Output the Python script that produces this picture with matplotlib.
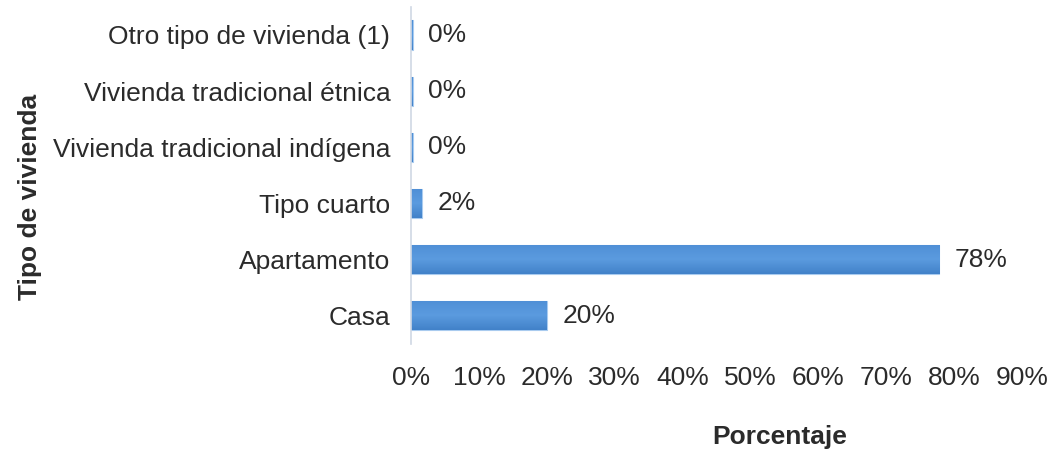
import numpy as np
import matplotlib
matplotlib.use('Agg')
import matplotlib.pyplot as plt
from matplotlib.colors import LinearSegmentedColormap
from matplotlib.ticker import FuncFormatter, MultipleLocator

plt.rcParams['font.family'] = ['Liberation Sans', 'DejaVu Sans']

# Housing types, bottom to top, with their share (%)
tipos = ['Casa', 'Apartamento', 'Tipo cuarto', 'Vivienda tradicional indígena',
         'Vivienda tradicional étnica', 'Otro tipo de vivienda (1)']
porcentajes = [20.0, 77.8, 1.6, 0.2, 0.2, 0.2]

text_color = '#2b2b2b'
fs = 19

fig = plt.figure(figsize=(10.57, 4.55), dpi=100)
ax = fig.add_axes([0.389, 0.244, 0.578, 0.741])

y = np.arange(len(tipos))
bars = ax.barh(y, porcentajes, height=0.52, color='#4f8fd6',
               edgecolor='#a9cbef', linewidth=0.8, zorder=2)

# soft vertical gradient inside each bar
grad = LinearSegmentedColormap.from_list('barra', ['#4282c9', '#5b9bdf', '#4f8fd6'])
for b in bars:
    x0, y0 = b.get_x(), b.get_y()
    w, h = b.get_width(), b.get_height()
    im = ax.imshow(np.linspace(0, 1, 50).reshape(-1, 1), cmap=grad, aspect='auto',
                   extent=[x0, x0 + w, y0, y0 + h], origin='lower', zorder=2)
    im.set_clip_path(b)

for b, v in zip(bars, porcentajes):
    ax.annotate(f'{v:.0f}%', (b.get_width(), b.get_y() + b.get_height() / 2),
                xytext=(11, 0), textcoords='offset points', va='center', ha='left',
                fontsize=fs, color=text_color)

ax.set_xlim(0, 90)
ax.set_ylim(-0.5, len(tipos) - 0.5)
ax.xaxis.set_major_locator(MultipleLocator(10))
ax.xaxis.set_major_formatter(FuncFormatter(lambda v, _: f'{v:.0f}%'))
ax.set_yticks(y)
ax.set_yticklabels(tipos)

ax.tick_params(axis='both', length=0, labelsize=fs, labelcolor=text_color)
ax.tick_params(axis='x', pad=16)
ax.tick_params(axis='y', pad=15)

for side in ['top', 'right', 'bottom']:
    ax.spines[side].set_visible(False)
ax.spines['left'].set_color('#d0d8e4')
ax.spines['left'].set_linewidth(1.2)

fig.text(780 / 1057, 1 - 437 / 455, 'Porcentaje', ha='center', va='center',
         fontsize=fs, fontweight='bold', color=text_color)
fig.text(30 / 1057, 1 - 197 / 455, 'Tipo de vivienda', ha='center', va='center',
         rotation=90, fontsize=fs, fontweight='bold', color=text_color)

fig.savefig('out.png', dpi=100, facecolor='white')
